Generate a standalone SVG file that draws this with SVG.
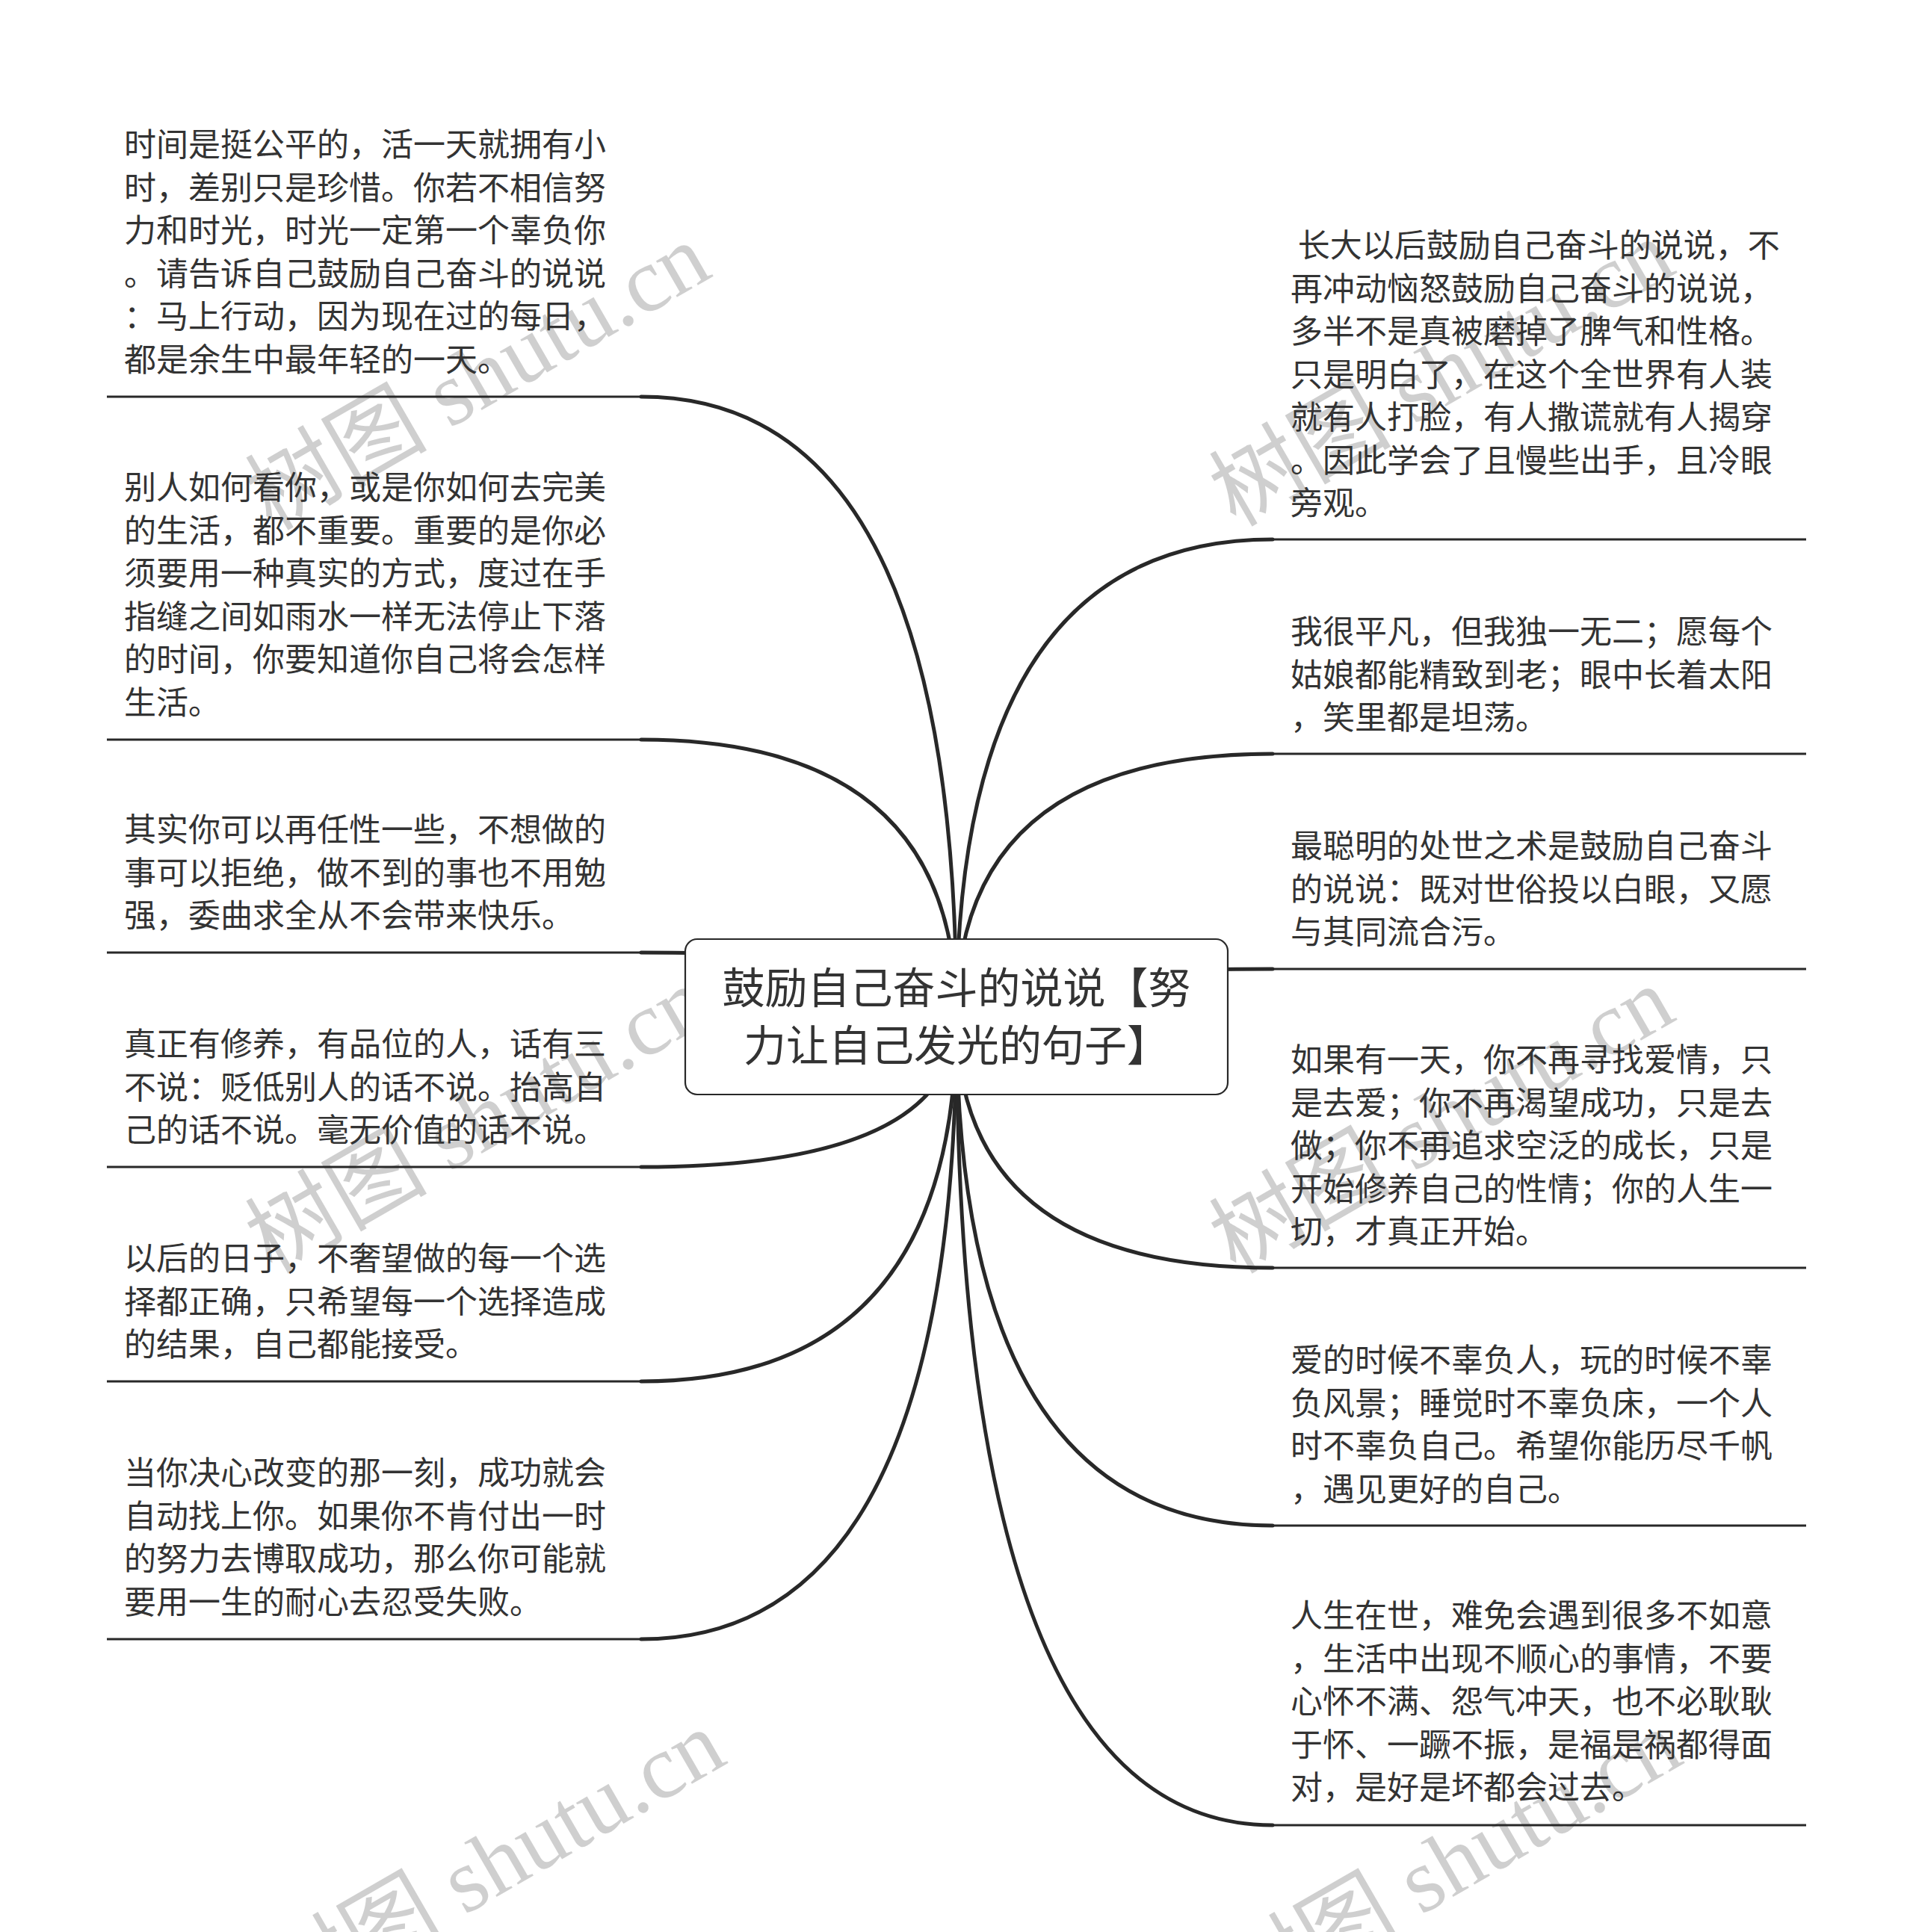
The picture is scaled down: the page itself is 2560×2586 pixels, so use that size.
<svg xmlns="http://www.w3.org/2000/svg" width="2560" height="2586" viewBox="0 0 2560 2586">
<style>
.bg{fill:#ffffff}
.wm{font-family:"Liberation Serif","Noto Sans CJK SC",serif;font-size:122px;fill:#000;fill-opacity:0.19}
.curve{fill:none;stroke:#282828;stroke-width:5;stroke-linecap:round}
.under{fill:none;stroke:#282828;stroke-width:3}
.box{fill:#ffffff;stroke:#282828;stroke-width:2.2}
.title{font-family:"Noto Sans CJK SC","Noto Sans",sans-serif;font-size:57px;fill:#333333;text-anchor:middle}
.txt{font-family:"Noto Sans CJK SC","Noto Sans",sans-serif;font-size:43px;fill:#333333}
</style>
<rect class="bg" x="0" y="0" width="2560" height="2586"/>
<g id="watermarks">
<text class="wm" text-anchor="middle" transform="translate(660,540) rotate(-30)">树图 shutu.cn</text>
<text class="wm" text-anchor="middle" transform="translate(1950,535) rotate(-30)">树图 shutu.cn</text>
<text class="wm" text-anchor="middle" transform="translate(660,1535) rotate(-30)">树图 shutu.cn</text>
<text class="wm" text-anchor="middle" transform="translate(1950,1535) rotate(-30)">树图 shutu.cn</text>
<text class="wm" text-anchor="middle" transform="translate(680,2530) rotate(-30)">树图 shutu.cn</text>
<text class="wm" text-anchor="middle" transform="translate(1960,2530) rotate(-30)">树图 shutu.cn</text>
</g>
<g id="connectors">
<path class="curve" d="M858,531 Q1280,531 1280,1361"/>
<path class="curve" d="M858,990 Q1280,990 1280,1361"/>
<path class="curve" d="M858,1275 Q1280,1275 1280,1361"/>
<path class="curve" d="M858,1562 Q1280,1562 1280,1361"/>
<path class="curve" d="M858,1849 Q1280,1849 1280,1361"/>
<path class="curve" d="M858,2194 Q1280,2194 1280,1361"/>
<path class="curve" d="M1703,722 Q1280,722 1280,1361"/>
<path class="curve" d="M1703,1009 Q1280,1009 1280,1361"/>
<path class="curve" d="M1703,1297 Q1280,1297 1280,1361"/>
<path class="curve" d="M1703,1697 Q1280,1697 1280,1361"/>
<path class="curve" d="M1703,2042 Q1280,2042 1280,1361"/>
<path class="curve" d="M1703,2443 Q1280,2443 1280,1361"/>
</g>
<g id="center">
<rect class="box" x="917" y="1257" width="726" height="208" rx="16" ry="16"/>
<text class="title" x="1280" y="1343">鼓励自己奋斗的说说【努</text>
<text class="title" x="1280" y="1420">力让自己发光的句子】</text>
</g>
<g id="node-l1">
<path class="under" d="M143,531 H858"/>
<text class="txt" x="166" y="209">
<tspan x="166" dy="0">时间是挺公平的，活一天就拥有小</tspan>
<tspan x="166" dy="57.5">时，差别只是珍惜。你若不相信努</tspan>
<tspan x="166" dy="57.5">力和时光，时光一定第一个辜负你</tspan>
<tspan x="166" dy="57.5">。请告诉自己鼓励自己奋斗的说说</tspan>
<tspan x="166" dy="57.5">：马上行动，因为现在过的每日，</tspan>
<tspan x="166" dy="57.5">都是余生中最年轻的一天。</tspan>
</text>
</g>
<g id="node-l2">
<path class="under" d="M143,990 H858"/>
<text class="txt" x="166" y="668">
<tspan x="166" dy="0">别人如何看你，或是你如何去完美</tspan>
<tspan x="166" dy="57.5">的生活，都不重要。重要的是你必</tspan>
<tspan x="166" dy="57.5">须要用一种真实的方式，度过在手</tspan>
<tspan x="166" dy="57.5">指缝之间如雨水一样无法停止下落</tspan>
<tspan x="166" dy="57.5">的时间，你要知道你自己将会怎样</tspan>
<tspan x="166" dy="57.5">生活。</tspan>
</text>
</g>
<g id="node-l3">
<path class="under" d="M143,1275 H858"/>
<text class="txt" x="166" y="1126">
<tspan x="166" dy="0">其实你可以再任性一些，不想做的</tspan>
<tspan x="166" dy="57.5">事可以拒绝，做不到的事也不用勉</tspan>
<tspan x="166" dy="57.5">强，委曲求全从不会带来快乐。</tspan>
</text>
</g>
<g id="node-l4">
<path class="under" d="M143,1562 H858"/>
<text class="txt" x="166" y="1413">
<tspan x="166" dy="0">真正有修养，有品位的人，话有三</tspan>
<tspan x="166" dy="57.5">不说：贬低别人的话不说。抬高自</tspan>
<tspan x="166" dy="57.5">己的话不说。毫无价值的话不说。</tspan>
</text>
</g>
<g id="node-l5">
<path class="under" d="M143,1849 H858"/>
<text class="txt" x="166" y="1700">
<tspan x="166" dy="0">以后的日子，不奢望做的每一个选</tspan>
<tspan x="166" dy="57.5">择都正确，只希望每一个选择造成</tspan>
<tspan x="166" dy="57.5">的结果，自己都能接受。</tspan>
</text>
</g>
<g id="node-l6">
<path class="under" d="M143,2194 H858"/>
<text class="txt" x="166" y="1987">
<tspan x="166" dy="0">当你决心改变的那一刻，成功就会</tspan>
<tspan x="166" dy="57.5">自动找上你。如果你不肯付出一时</tspan>
<tspan x="166" dy="57.5">的努力去博取成功，那么你可能就</tspan>
<tspan x="166" dy="57.5">要用一生的耐心去忍受失败。</tspan>
</text>
</g>
<g id="node-r1">
<path class="under" d="M1703,722 H2417"/>
<text class="txt" x="1727" y="344" xml:space="preserve"><tspan x="1727" dy="0"> 长大以后鼓励自己奋斗的说说，不</tspan><tspan x="1727" dy="57.5">再冲动恼怒鼓励自己奋斗的说说，</tspan><tspan x="1727" dy="57.5">多半不是真被磨掉了脾气和性格。</tspan><tspan x="1727" dy="57.5">只是明白了，在这个全世界有人装</tspan><tspan x="1727" dy="57.5">就有人打脸，有人撒谎就有人揭穿</tspan><tspan x="1727" dy="57.5">。因此学会了且慢些出手，且冷眼</tspan><tspan x="1727" dy="57.5">旁观。</tspan></text>
</g>
<g id="node-r2">
<path class="under" d="M1703,1009 H2417"/>
<text class="txt" x="1727" y="861">
<tspan x="1727" dy="0">我很平凡，但我独一无二；愿每个</tspan>
<tspan x="1727" dy="57.5">姑娘都能精致到老；眼中长着太阳</tspan>
<tspan x="1727" dy="57.5">，笑里都是坦荡。</tspan>
</text>
</g>
<g id="node-r3">
<path class="under" d="M1703,1297 H2417"/>
<text class="txt" x="1727" y="1148">
<tspan x="1727" dy="0">最聪明的处世之术是鼓励自己奋斗</tspan>
<tspan x="1727" dy="57.5">的说说：既对世俗投以白眼，又愿</tspan>
<tspan x="1727" dy="57.5">与其同流合污。</tspan>
</text>
</g>
<g id="node-r4">
<path class="under" d="M1703,1697 H2417"/>
<text class="txt" x="1727" y="1434">
<tspan x="1727" dy="0">如果有一天，你不再寻找爱情，只</tspan>
<tspan x="1727" dy="57.5">是去爱；你不再渴望成功，只是去</tspan>
<tspan x="1727" dy="57.5">做；你不再追求空泛的成长，只是</tspan>
<tspan x="1727" dy="57.5">开始修养自己的性情；你的人生一</tspan>
<tspan x="1727" dy="57.5">切，才真正开始。</tspan>
</text>
</g>
<g id="node-r5">
<path class="under" d="M1703,2042 H2417"/>
<text class="txt" x="1727" y="1836">
<tspan x="1727" dy="0">爱的时候不辜负人，玩的时候不辜</tspan>
<tspan x="1727" dy="57.5">负风景；睡觉时不辜负床，一个人</tspan>
<tspan x="1727" dy="57.5">时不辜负自己。希望你能历尽千帆</tspan>
<tspan x="1727" dy="57.5">，遇见更好的自己。</tspan>
</text>
</g>
<g id="node-r6">
<path class="under" d="M1703,2443 H2417"/>
<text class="txt" x="1727" y="2178">
<tspan x="1727" dy="0">人生在世，难免会遇到很多不如意</tspan>
<tspan x="1727" dy="57.5">，生活中出现不顺心的事情，不要</tspan>
<tspan x="1727" dy="57.5">心怀不满、怨气冲天，也不必耿耿</tspan>
<tspan x="1727" dy="57.5">于怀、一蹶不振，是福是祸都得面</tspan>
<tspan x="1727" dy="57.5">对，是好是坏都会过去。</tspan>
</text>
</g>
</svg>
